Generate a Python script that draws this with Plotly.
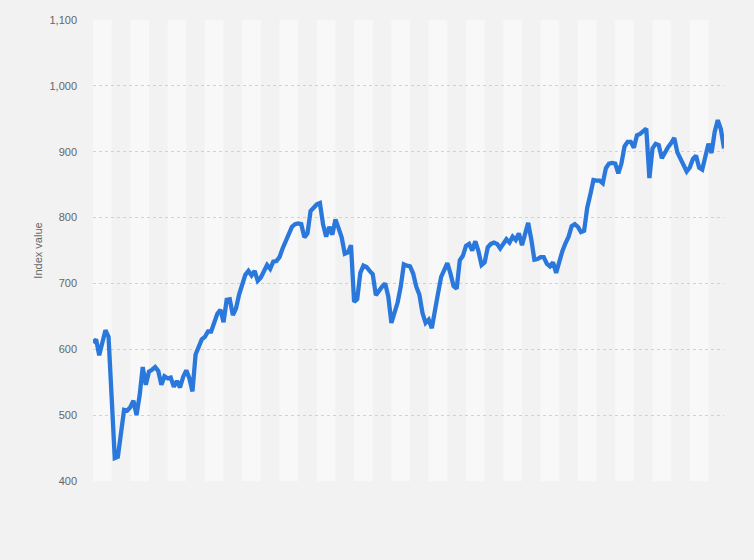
import plotly.graph_objects as go

# Monthly index values
index_values = [
    610, 615, 591, 608, 629, 619, 535, 435, 437, 468,
    508, 507, 512, 522, 500, 530, 573, 546, 566, 569,
    573, 567, 546, 559, 556, 557, 543, 552, 542, 558,
    568, 556, 536, 592, 604, 615, 619, 627, 627, 640,
    654, 660, 641, 675, 676, 652, 662, 683, 700, 713,
    719, 712, 719, 704, 709, 719, 728, 722, 733, 734,
    740, 753, 765, 775, 786, 790, 791, 790, 770, 776,
    810, 815, 820, 822, 790, 771, 786, 774, 797, 784,
    770, 745, 747, 758, 672, 676, 716, 727, 725, 719,
    714, 682, 690, 695, 700, 680, 640, 655, 671, 695,
    729, 727, 726, 715, 695, 683, 655, 640, 645, 632,
    662, 685, 710, 722, 731, 715, 696, 692, 735, 742,
    757, 760, 750, 764, 749, 728, 732, 755, 760, 762,
    760, 753, 761, 767, 762, 771, 766, 776, 758, 775,
    792, 767, 736, 737, 740, 740, 730, 726, 732, 716,
    736, 749, 761, 771, 787, 790, 786, 778, 780, 815,
    835, 857, 856, 856, 852, 875, 882, 883, 882, 867,
    882, 908, 915, 915, 906, 925, 927, 932, 935, 860,
    905, 912, 910, 890, 900, 907, 913, 921, 899, 890,
    879, 870, 876, 889, 894, 876, 873, 890, 912, 898,
    930, 948, 934, 905,
]
months = list(range(len(index_values)))

y_ticks = [400, 500, 600, 700, 800, 900, 1000, 1100]
y_title = "Index value"
band_months = 6

fig = go.Figure()

fig.add_trace(go.Scatter(
    x=months, y=index_values, mode="lines",
    line=dict(color="#2a78dc", width=4.3),
    hoverinfo="skip", showlegend=False,
))

n = len(index_values) - 1
shapes = []
k = 0
start = 0
while start < n:
    if k % 2 == 0:
        shapes.append(dict(
            type="rect", xref="x", yref="paper",
            x0=start, x1=min(start + band_months, n), y0=0, y1=1,
            fillcolor="#f8f8f8", line=dict(width=0), layer="below",
        ))
    start += band_months
    k += 1

fig.update_layout(
    width=754, height=560,
    margin=dict(l=93, r=30, t=20, b=79),
    paper_bgcolor="#f2f2f2",
    plot_bgcolor="#f2f2f2",
    shapes=shapes,
    font=dict(family="Liberation Sans, Arial, sans-serif", color="#666666", size=11),
    xaxis=dict(
        range=[0, n], showgrid=False, zeroline=False,
        showticklabels=False, ticks="", showline=False, fixedrange=True,
    ),
    yaxis=dict(
        range=[400, 1100], tickvals=y_ticks, tickformat=",",
        showgrid=True, gridcolor="#d2d2d2", gridwidth=1, griddash="dot",
        zeroline=False, showline=False, ticks="",
        ticklabelstandoff=15,
        tickfont=dict(size=11, color="#666666"),
        title=dict(text=y_title, font=dict(size=11, color="#666666"), standoff=4),
        fixedrange=True,
    ),
)

fig.write_html(
    "out.html",
    config={"displayModeBar": False},
    post_script="document.body.style.margin='0';document.body.style.background='#f2f2f2';",
)
